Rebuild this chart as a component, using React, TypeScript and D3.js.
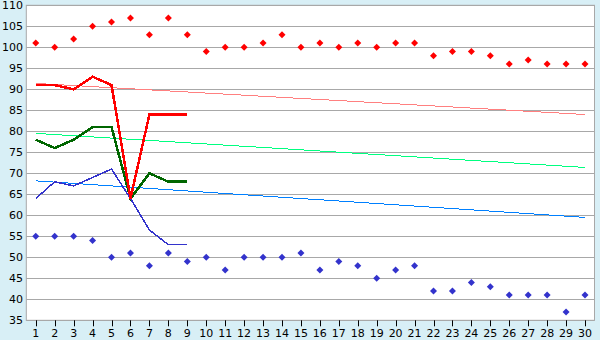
import React from "react";
import * as d3 from "d3";

const categories = d3.range(1, 31);
const redDots = [101, 100, 102, 105, 106, 107, 103, 107, 103, 99, 100, 100, 101, 103, 100, 101, 100, 101, 100, 101, 101, 98, 99, 99, 98, 96, 97, 96, 96, 96];
const blueDots = [55, 55, 55, 54, 50, 51, 48, 51, 49, 50, 47, 50, 50, 50, 51, 47, 49, 48, 45, 47, 48, 42, 42, 44, 43, 41, 41, 41, 37, 41];
const redLine = [91, 91, 90, 93, 91, 64, 84, 84, 84];
const greenLine = [78, 76, 78, 81, 81, 64, 70, 68, 68];
const blueLine = [64, 68, 67, 69, 71, 64, 56.5, 53, 53];
const redTrend = [91.4, 84.0];
const greenTrend = [79.5, 71.4];
const blueTrend = [68.2, 59.5];
const yTicks = d3.range(35, 111, 5);

export default function App() {
  const W = 600, H = 340;
  const left = 26.3, right = 594.5, top = 5.3, bottom = 320.3;
  const x = d3.scalePoint<number>().domain(categories).range([left, right]).padding(0.5);
  const y = d3.scaleLinear().domain([35, 110]).range([bottom, top]);
  const line = d3.line<[number, number]>().x(d => x(d[0])!).y(d => y(d[1]));
  const series = (vals: number[]) => vals.map((v, i) => [categories[i], v] as [number, number]);
  const trend = (t: number[]) => [[categories[0], t[0]], [categories[categories.length - 1], t[1]]] as [number, number][];
  const diamond = (cx: number, cy: number) => `M${cx},${cy - 3.5}L${cx + 3.5},${cy}L${cx},${cy + 3.5}L${cx - 3.5},${cy}Z`;
  const font = "'DejaVu Sans', Verdana, sans-serif";
  return (
    <svg width={W} height={H} style={{ position: "absolute", left: 0, top: 0 }} fontFamily={font}>
      <rect x={0} y={0} width={W} height={H} fill="#D8EFF6" />
      <rect x={left} y={top} width={right - left} height={bottom - top} fill="#FFFFFF" />
      {yTicks.map(t => (
        <g key={t}>
          <line x1={left} x2={right} y1={Math.round(y(t)) + 0.5} y2={Math.round(y(t)) + 0.5} stroke="#A8A8A8" strokeWidth={1} />
          <text x={23} y={y(t)} dy="0.36em" textAnchor="end" fontSize={11} fill="#000">{t}</text>
        </g>
      ))}
      <rect x={left} y={top} width={right - left} height={bottom - top} fill="none" stroke="#A8A8A8" strokeWidth={1} />
      {categories.map(c => (
        <g key={c}>
          <line x1={Math.round(x(c)!) + 0.5} x2={Math.round(x(c)!) + 0.5} y1={bottom} y2={bottom + 6} stroke="#000" strokeWidth={1} />
          <text x={x(c)!} y={337} textAnchor="middle" fontSize={11} fill="#000">{c}</text>
        </g>
      ))}
      <path d={line(trend(redTrend))!} fill="none" stroke="#FF8080" strokeWidth={1} shapeRendering="crispEdges" />
      <path d={line(trend(greenTrend))!} fill="none" stroke="#00FF80" strokeWidth={1} shapeRendering="crispEdges" />
      <path d={line(trend(blueTrend))!} fill="none" stroke="#0080FF" strokeWidth={1} shapeRendering="crispEdges" />
      <path d={line(series(greenLine))!} fill="none" stroke="#006600" strokeWidth={2.5} shapeRendering="crispEdges" />
      <path d={line(series(blueLine))!} fill="none" stroke="#3333CC" strokeWidth={1.5} shapeRendering="crispEdges" />
      <path d={line(series(redLine))!} fill="none" stroke="#FF0000" strokeWidth={2.5} shapeRendering="crispEdges" />
      {redDots.map((v, i) => (
        <path key={"r" + i} d={diamond(x(categories[i])!, y(v))} fill="#FF0000" />
      ))}
      {blueDots.map((v, i) => (
        <path key={"b" + i} d={diamond(x(categories[i])!, y(v))} fill="#3333CC" />
      ))}
    </svg>
  );
}
